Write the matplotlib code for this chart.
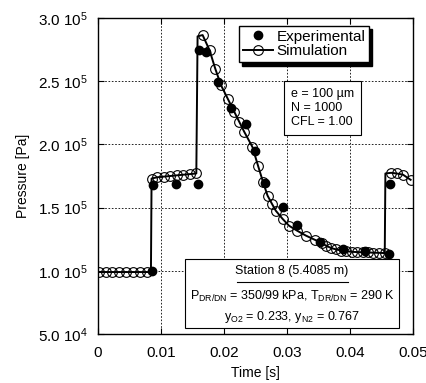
#!/usr/bin/env python3

import matplotlib
matplotlib.use("Agg")

import matplotlib.pyplot as plt
from matplotlib.patches import Rectangle

plt.rcParams["font.family"] = ["Liberation Sans", "DejaVu Sans"]
plt.rcParams["mathtext.default"] = "regular"

# simulation (line + open circles)
sim_t = [0.0002, 0.0013, 0.0023, 0.0034, 0.0045, 0.0055, 0.0066, 0.0077, 0.0084,
         0.0085, 0.0094, 0.0104, 0.0115, 0.0125, 0.0135, 0.0146, 0.0156,
         0.0158, 0.0166, 0.0177, 0.0186, 0.0195, 0.0206, 0.0216, 0.0224, 0.0232,
         0.0245, 0.0254, 0.0262, 0.0269, 0.0276, 0.0282, 0.0293, 0.0303, 0.0316,
         0.0330, 0.0345, 0.0355, 0.0362, 0.0370, 0.0377, 0.0386, 0.0394, 0.0403,
         0.0411, 0.0420, 0.0428, 0.0437, 0.0446, 0.0455,
         0.0456, 0.0465, 0.0474, 0.0484, 0.0496]
sim_p = [0.99e5, 0.99e5, 0.99e5, 0.99e5, 0.99e5, 0.99e5, 0.99e5, 0.99e5, 0.99e5,
         1.73e5, 1.74e5, 1.745e5, 1.75e5, 1.755e5, 1.76e5, 1.765e5, 1.77e5,
         2.855e5, 2.865e5, 2.745e5, 2.60e5, 2.47e5, 2.36e5, 2.26e5, 2.18e5, 2.10e5,
         1.98e5, 1.83e5, 1.70e5, 1.595e5, 1.53e5, 1.476e5, 1.41e5, 1.357e5, 1.317e5,
         1.278e5, 1.243e5, 1.22e5, 1.198e5, 1.18e5, 1.17e5, 1.16e5, 1.155e5, 1.15e5,
         1.148e5, 1.146e5, 1.145e5, 1.143e5, 1.142e5, 1.14e5,
         1.77e5, 1.775e5, 1.77e5, 1.76e5, 1.72e5]
# corner points of the jumps carry no circle
no_marker = {8, 17, 50}
sim_marks = [i for i in range(len(sim_t)) if i not in no_marker]

# experimental (filled dots)
exp_t = [0.0085, 0.0088, 0.0123, 0.0158, 0.0160, 0.0172, 0.0191, 0.0211, 0.0235,
         0.0249, 0.0265, 0.0294, 0.0316, 0.0353, 0.0388, 0.0423, 0.0461, 0.0464]
exp_p = [1.00e5, 1.675e5, 1.69e5, 1.69e5, 2.746e5, 2.73e5, 2.495e5, 2.285e5, 2.16e5,
         1.945e5, 1.695e5, 1.505e5, 1.362e5, 1.227e5, 1.172e5, 1.155e5, 1.13e5, 1.69e5]

xticks = [0, 0.01, 0.02, 0.03, 0.04, 0.05]
xticklabels = ["0", "0.01", "0.02", "0.03", "0.04", "0.05"]
yticks = [0.5e5, 1.0e5, 1.5e5, 2.0e5, 2.5e5, 3.0e5]
yticklabels = ["5.0 10$^4$", "1.0 10$^5$", "1.5 10$^5$",
               "2.0 10$^5$", "2.5 10$^5$", "3.0 10$^5$"]

fig = plt.figure(figsize=(4.27, 3.83), dpi=100)
ax = fig.add_axes([0.2295, 0.128, 0.738, 0.825])

ax.plot(sim_t, sim_p, color="black", lw=1.4, marker="o", ms=7, markevery=sim_marks,
        mfc="none", mec="black", mew=0.8, label="Simulation", zorder=3)
ax.plot(exp_t, exp_p, ls="none", marker="o", ms=6, color="black",
        label="Experimental", zorder=4)

ax.set_xlim(0, 0.05)
ax.set_ylim(0.5e5, 3.0e5)
ax.set_xticks(xticks)
ax.set_xticklabels(xticklabels)
ax.set_yticks(yticks)
ax.set_yticklabels(yticklabels)
ax.tick_params(direction="in", length=4, width=0.8, labelsize=11,
               top=True, right=True)
ax.tick_params(axis="x", pad=9)
ax.tick_params(axis="y", pad=7)
ax.grid(True, color="black", ls=(0, (2, 2)), lw=0.6)
ax.set_axisbelow(True)
for s in ax.spines.values():
    s.set_linewidth(1.0)

ax.set_xlabel("Time [s]", fontsize=10, labelpad=4)
ax.set_ylabel("Pressure [Pa]", fontsize=10, labelpad=6)

h, l = ax.get_legend_handles_labels()
leg = ax.legend(h[::-1], l[::-1], loc="upper right", bbox_to_anchor=(0.86, 0.975),
                borderaxespad=0, fontsize=11, fancybox=False, framealpha=1,
                edgecolor="black", handlelength=2.0, handletextpad=0.2,
                labelspacing=0.05, borderpad=0.25,
                shadow={"color": "black", "alpha": 1, "ox": 2.5, "oy": -2.5})
leg.get_frame().set_linewidth(1.0)
leg.set_zorder(10)

# parameter box
ax.text(0.612, 0.78, "e = 100 \u00b5m\nN = 1000\nCFL = 1.00", transform=ax.transAxes,
        fontsize=9, va="top", ha="left", linespacing=1.25,
        bbox=dict(boxstyle="square,pad=0.55", fc="white", ec="black", lw=0.8),
        zorder=10)

# station box
ax.add_patch(Rectangle((0.276, 0.019), 0.68, 0.218, transform=ax.transAxes,
                       fc="white", ec="black", lw=0.8, zorder=10))
ax.text(0.616, 0.200, "Station 8 (5.4085 m)", transform=ax.transAxes,
        fontsize=9, ha="center", va="center", zorder=11)
ax.plot([0.44, 0.793], [0.166, 0.166], transform=ax.transAxes, color="black",
        lw=0.8, zorder=11)
ax.text(0.616, 0.118, "P$_{DR/DN}$ = 350/99 kPa, T$_{DR/DN}$ = 290 K",
        transform=ax.transAxes, fontsize=9, ha="center", va="center", zorder=11)
ax.text(0.616, 0.055, "y$_{O2}$ = 0.233, y$_{N2}$ = 0.767",
        transform=ax.transAxes, fontsize=9, ha="center", va="center", zorder=11)

fig.savefig("out.png", dpi=100)
